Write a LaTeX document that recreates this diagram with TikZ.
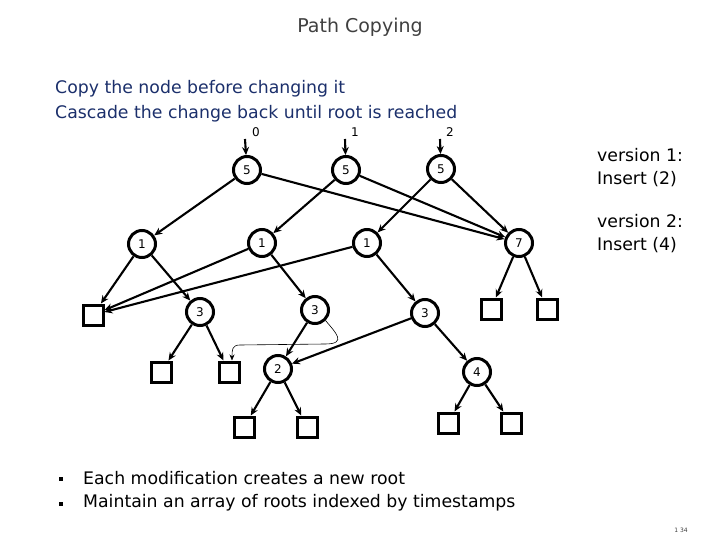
\documentclass[tikz,border=0pt]{standalone}
\usepackage{fontspec}
\setmainfont{DejaVu Sans}
\usetikzlibrary{arrows.meta}
\definecolor{titlegray}{HTML}{404040}
\definecolor{bodyblue}{HTML}{1B2F6B}
\begin{document}
\begin{tikzpicture}[x=1pt,y=-1pt,
  tnode/.style={circle,draw,line width=3pt,minimum size=27pt,inner sep=0pt,font=\fontsize{12}{12}\selectfont},
  leaf/.style={rectangle,draw,line width=3pt,minimum size=20pt,inner sep=0pt},
  ptr/.style={line width=2.1pt,-{Stealth[length=8pt,width=7pt]}},
  thinptr/.style={line width=0.6pt,-{Stealth[length=6pt,width=5pt]}},
  lbl/.style={font=\fontsize{12}{12}\selectfont,inner sep=0pt},
  ver/.style={font=\fontsize{17.3}{23}\selectfont,align=left,anchor=west,inner sep=0pt}]
\useasboundingbox (0,0) rectangle (720,540);
% texts
\node[text=titlegray,font=\fontsize{19}{19}\selectfont] (title) at (360,27) {Path Copying};
\node[text=bodyblue,font=\fontsize{17.3}{20}\selectfont,anchor=west,inner sep=0pt] (c1) at (55,89) {Copy the node before changing it};
\node[text=bodyblue,font=\fontsize{17.3}{20}\selectfont,anchor=west,inner sep=0pt] (c2) at (55,114) {Cascade the change back until root is reached};
\node[ver] (v1) at (597,168) {version 1:\\Insert (2)};
\node[ver] (v2) at (597,234) {version 2:\\Insert (4)};
% bullets
\node[fill=black,minimum size=3.5pt,inner sep=0pt] (b1) at (61,479) {};
\node[fill=black,minimum size=3.5pt,inner sep=0pt] (b2) at (61,504) {};
\node[ver] (bt1) at (83,478) {Each modification creates a new root};
\node[ver] (bt2) at (83,503) {Maintain an array of roots indexed by timestamps};
\node[text=titlegray,font=\fontsize{6}{6}\selectfont] (pg) at (681,530) {1 34};
% version labels
\node[lbl] (l0) at (256,132) {0};
\node[lbl] (l1) at (355,132) {1};
\node[lbl] (l2) at (450,132) {2};
\coordinate (t0) at (245,139);
\coordinate (t1) at (345,139);
\coordinate (t2) at (440,139);
% tree nodes
\node[tnode] (r0) at (247,170) {5};
\node[tnode] (r1) at (346,170) {5};
\node[tnode] (r2) at (441,169) {5};
\node[tnode] (a1) at (142,244) {1};
\node[tnode] (b1n) at (262,243) {1};
\node[tnode] (c1n) at (367,243) {1};
\node[tnode] (s7) at (519,243) {7};
\node[leaf] (q0) at (93,315) {};
\node[tnode] (a3) at (200,312) {3};
\node[tnode] (b3) at (315,310) {3};
\node[tnode] (c3) at (425,313) {3};
\node[leaf] (q7a) at (491,309) {};
\node[leaf] (q7b) at (547,309) {};
\node[leaf] (q3a) at (161,372) {};
\node[leaf] (q3b) at (229,372) {};
\node[tnode] (n2) at (278,369) {2};
\node[tnode] (n4) at (477,372) {4};
\node[leaf] (q2a) at (244,427) {};
\node[leaf] (q2b) at (307,427) {};
\node[leaf] (q4a) at (448,423) {};
\node[leaf] (q4b) at (511,423) {};
% edges
\draw[ptr] (t0) -- (r0);
\draw[ptr] (t1) -- (r1);
\draw[ptr] (t2) -- (r2);
\draw[ptr] (r0) -- (a1);
\draw[ptr] (r0) -- (s7);
\draw[ptr] (r1) -- (b1n);
\draw[ptr] (r1) -- (s7);
\draw[ptr] (r2) -- (c1n);
\draw[ptr] (r2) -- (s7);
\draw[ptr] (a1) -- (q0);
\draw[ptr] (a1) -- (a3);
\draw[ptr] (b1n) -- (q0);
\draw[ptr] (b1n) -- (b3);
\draw[ptr] (c1n) -- (q0);
\draw[ptr] (c1n) -- (c3);
\draw[ptr] (s7) -- (q7a);
\draw[ptr] (s7) -- (q7b);
\draw[ptr] (a3) -- (q3a);
\draw[ptr] (a3) -- (q3b);
\draw[ptr] (b3) -- (n2);
\draw[ptr] (c3) -- (n2);
\draw[ptr] (c3) -- (n4);
\draw[ptr] (n2) -- (q2a);
\draw[ptr] (n2) -- (q2b);
\draw[ptr] (n4) -- (q4a);
\draw[ptr] (n4) -- (q4b);
\draw[thinptr] (b3.-45) .. controls (335,332) and (348,344) .. (325,344) -- (240,345) .. controls (232,345) and (232,350) .. ([xshift=3pt]q3b.north);
\end{tikzpicture}
\end{document}
